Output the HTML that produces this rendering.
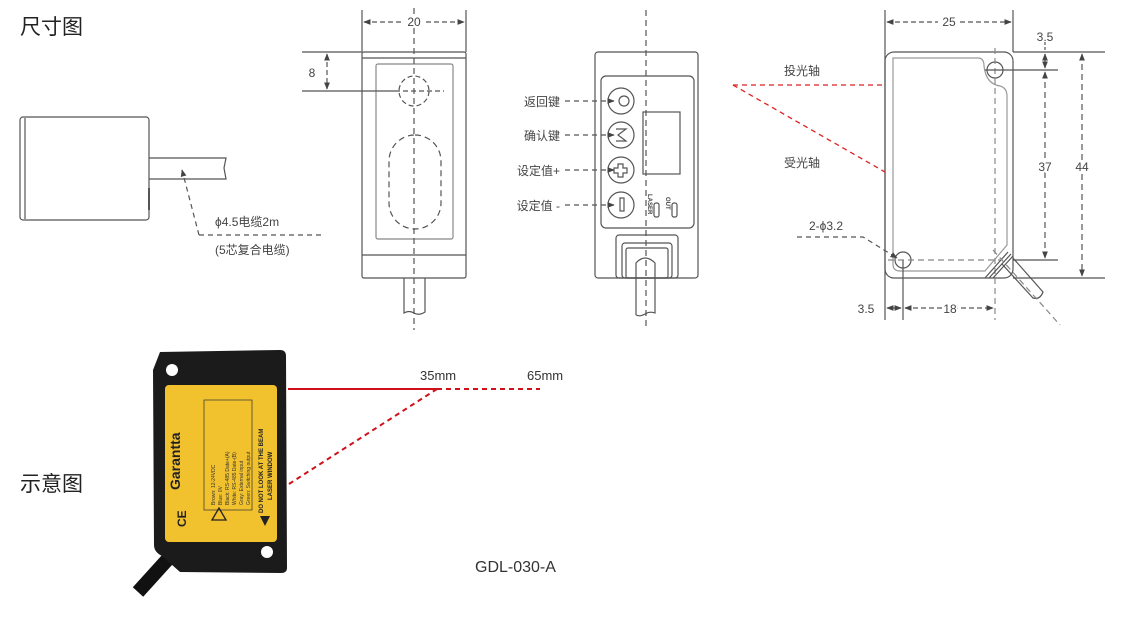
<!DOCTYPE html>
<html><head><meta charset="utf-8"><style>
html,body{margin:0;padding:0;background:#fff;}
svg{display:block;font-family:"Liberation Sans","Noto Sans CJK SC",sans-serif;}
</style></head><body>
<svg width="1128" height="618" viewBox="0 0 1128 618" xmlns="http://www.w3.org/2000/svg">
<defs>
<marker id="ar" viewBox="0 0 10 10" refX="9" refY="5" markerWidth="6" markerHeight="6" orient="auto-start-reverse"><path d="M0,1 L10,5 L0,9 z" fill="#444"/></marker>
</defs>
<text x="20" y="34" font-size="21" fill="#222">尺寸图</text>
<text x="20" y="491" font-size="21" fill="#222">示意图</text>

<g stroke="#555" stroke-width="1.2" fill="none">
<rect x="20" y="117" width="129" height="103" rx="3"/>
<line x1="25" y1="118" x2="25" y2="219"/>
<path d="M149,158 L226,158 L224,168 L226,179 L149,179"/>
<line x1="149" y1="188" x2="149" y2="210" stroke-width="2"/>
<path d="M199,235 L182,170" stroke-dasharray="5,4" marker-end="url(#ar)"/>
<line x1="199" y1="235" x2="322" y2="235" stroke-dasharray="5,4"/>

<rect x="362" y="52" width="104" height="226" rx="2"/>
<line x1="362" y1="58" x2="466" y2="58"/>
<rect x="376" y="64" width="77" height="175" rx="2" stroke="#888"/>
<line x1="362" y1="255" x2="466" y2="255"/>
<path d="M404,278 L404,313 Q409,310 414,313 Q419,316 425,312 L425,278"/>
<line x1="414" y1="8" x2="414" y2="330" stroke-dasharray="6,4"/>
<line x1="362" y1="10" x2="362" y2="52"/>
<line x1="466" y1="10" x2="466" y2="52"/>
<line x1="364" y1="22" x2="402" y2="22" stroke-dasharray="5,3" marker-start="url(#ar)"/>
<line x1="426" y1="22" x2="464" y2="22" stroke-dasharray="5,3" marker-end="url(#ar)"/>
<line x1="302" y1="52" x2="362" y2="52"/>
<line x1="302" y1="91" x2="395" y2="91"/>
<line x1="327" y1="54" x2="327" y2="89" stroke-dasharray="5,3" marker-start="url(#ar)" marker-end="url(#ar)"/>
<circle cx="414" cy="91" r="15" stroke-dasharray="5,3"/>
<line x1="395" y1="91" x2="444" y2="91" stroke-dasharray="5,3"/>
<rect x="389" y="135" width="52" height="94" rx="26" stroke-dasharray="6,4"/>

<rect x="595" y="52" width="103" height="226" rx="3"/>
<rect x="601" y="76" width="93" height="152" rx="5"/>
<line x1="646" y1="10" x2="646" y2="330" stroke-dasharray="6,4"/>
<circle cx="621" cy="101" r="13"/><circle cx="624" cy="101" r="5"/>
<circle cx="621" cy="135" r="13"/>
<circle cx="621" cy="170" r="13"/>
<circle cx="621" cy="205" r="13"/>
<path d="M616,129 L626,129 L618,135 L626,141 L616,141"/>
<path d="M618,164 h5 v4 h4 v5 h-4 v4 h-5 v-4 h-4 v-5 h4 z"/>
<rect x="620" y="198" width="4" height="13"/>
<line x1="565" y1="101" x2="614" y2="101" stroke-dasharray="5,4" marker-end="url(#ar)"/>
<line x1="565" y1="135" x2="614" y2="135" stroke-dasharray="5,4" marker-end="url(#ar)"/>
<line x1="565" y1="170" x2="614" y2="170" stroke-dasharray="5,4" marker-end="url(#ar)"/>
<line x1="565" y1="205" x2="614" y2="205" stroke-dasharray="5,4" marker-end="url(#ar)"/>
<rect x="643" y="112" width="37" height="62"/>
<rect x="654" y="203" width="5" height="14" rx="2"/>
<rect x="672" y="203" width="5" height="14" rx="2"/>
<rect x="616" y="235" width="62" height="43" rx="3"/>
<rect x="622" y="243" width="50" height="35" rx="3"/>
<rect x="626" y="248" width="42" height="30" rx="2"/>
<path d="M636,315 L636,263 Q645,253 655,263 L655,313 Q650,311 645,314 Q640,317 636,315"/>

<rect x="885" y="52" width="128" height="226" rx="9"/>
<path d="M893,58 L978,58 Q984,58 984,66 Q986,84 1000,86 Q1007,88 1007,96 L1007,245 L985,271 L900,271 Q893,271 893,264 L893,58 Z" stroke="#999"/>
<circle cx="995" cy="70" r="8"/>
<circle cx="903" cy="260" r="8"/>
<line x1="885" y1="10" x2="885" y2="320"/>
<line x1="1013" y1="10" x2="1013" y2="52"/>
<line x1="887" y1="22" x2="938" y2="22" stroke-dasharray="5,3" marker-start="url(#ar)"/>
<line x1="960" y1="22" x2="1011" y2="22" stroke-dasharray="5,3" marker-end="url(#ar)"/>
<line x1="995" y1="48" x2="995" y2="320" stroke-dasharray="6,4" stroke="#888"/>
<line x1="903" y1="260" x2="903" y2="320"/>
<line x1="888" y1="260" x2="1000" y2="260" stroke-dasharray="6,4" stroke="#888"/>
<line x1="1013" y1="52" x2="1105" y2="52"/>
<line x1="985" y1="70" x2="1058" y2="70"/>
<line x1="1013" y1="260" x2="1058" y2="260"/>
<line x1="1013" y1="278" x2="1105" y2="278"/>
<line x1="1045" y1="54" x2="1045" y2="68" marker-start="url(#ar)" marker-end="url(#ar)"/>
<line x1="1045" y1="42" x2="1045" y2="52" stroke-dasharray="3,2"/>
<line x1="1045" y1="72" x2="1045" y2="258" stroke-dasharray="6,4" marker-start="url(#ar)" marker-end="url(#ar)"/>
<line x1="1082" y1="54" x2="1082" y2="276" stroke-dasharray="6,4" marker-start="url(#ar)" marker-end="url(#ar)"/>
<line x1="887" y1="308" x2="901" y2="308" marker-start="url(#ar)" marker-end="url(#ar)"/>
<line x1="905" y1="308" x2="993" y2="308" stroke-dasharray="5,3" marker-start="url(#ar)" marker-end="url(#ar)"/>
<path d="M985,278 L1008,252 M989,278 L1011,254 M993,278 L1013,256"/>
<path d="M1002,264 L1033,298 Q1040,300 1043,292 L1013,258"/>
<line x1="993" y1="250" x2="1060" y2="325" stroke-dasharray="6,4" stroke="#888"/>
<path d="M797,237 L863,237 L897,258" stroke-dasharray="5,4" marker-end="url(#ar)"/>
</g>

<g stroke="#d22" stroke-width="1.3" fill="none" stroke-dasharray="5,4">
<line x1="733" y1="85" x2="883" y2="85"/>
<line x1="733" y1="85" x2="885" y2="172"/>
</g>

<g font-size="12" fill="#444">
<text x="215" y="226">ϕ4.5电缆2m</text>
<text x="215" y="254">(5芯复合电缆)</text>
<text x="312" y="77" text-anchor="middle">8</text>
<text x="414" y="26" text-anchor="middle" style="paint-order:stroke" stroke="#fff" stroke-width="4">20</text>
<text x="560" y="106" text-anchor="end">返回键</text>
<text x="560" y="140" text-anchor="end">确认键</text>
<text x="560" y="175" text-anchor="end">设定值+</text>
<text x="560" y="210" text-anchor="end">设定值 -</text>
<text x="0" y="0" font-size="6" font-weight="bold" transform="translate(648,194) rotate(90)">LASER</text>
<text x="0" y="0" font-size="6" font-weight="bold" transform="translate(666,197) rotate(90)">OUT</text>
<text x="784" y="75">投光轴</text>
<text x="784" y="167">受光轴</text>
<text x="949" y="26" text-anchor="middle" style="paint-order:stroke" stroke="#fff" stroke-width="4">25</text>
<text x="1045" y="41" text-anchor="middle">3.5</text>
<text x="1045" y="171" text-anchor="middle" style="paint-order:stroke" stroke="#fff" stroke-width="4">37</text>
<text x="1082" y="171" text-anchor="middle" style="paint-order:stroke" stroke="#fff" stroke-width="4">44</text>
<text x="866" y="313" text-anchor="middle">3.5</text>
<text x="950" y="313" text-anchor="middle" style="paint-order:stroke" stroke="#fff" stroke-width="4">18</text>
<text x="826" y="230" text-anchor="middle">2-ϕ3.2</text>
</g>

<g>
<path d="M138,592 L167,560" stroke="#111" stroke-width="14"/>
<path d="M160,352 L280,350 Q286,350 286,356 L287,568 Q287,573 281,573 L180,572 L162,556 Q154,552 154,545 L153,370 Z" fill="#1b1b1b"/>
<circle cx="172" cy="370" r="6" fill="#fff"/>
<circle cx="267" cy="552" r="6" fill="#fff"/>
<rect x="165" y="385" width="112" height="157" rx="4" fill="#f2c12e"/>
<rect x="204" y="400" width="48" height="110" fill="none" stroke="#333" stroke-width="0.7"/>
<text transform="translate(180,490) rotate(-90)" font-size="14" font-weight="bold" fill="#222">Garantta</text>
<text transform="translate(215,505) rotate(-90)" font-size="5" fill="#333">Brown: 12-24VDC</text>
<text transform="translate(222,505) rotate(-90)" font-size="5" fill="#333">Blue: 0V</text>
<text transform="translate(229,505) rotate(-90)" font-size="5" fill="#333">Black: RS-485 Date+(A)</text>
<text transform="translate(236,505) rotate(-90)" font-size="5" fill="#333">White: RS-485 Date-(B)</text>
<text transform="translate(243,505) rotate(-90)" font-size="5" fill="#333">Gray: External input</text>
<text transform="translate(250,505) rotate(-90)" font-size="5" fill="#333">Green: Switching output</text>
<text transform="translate(263,513) rotate(-90)" font-size="6" font-weight="bold" fill="#222">DO NOT LOOK AT THE BEAM</text>
<text transform="translate(272,500) rotate(-90)" font-size="6" font-weight="bold" fill="#222">LASER WINDOW</text>
<text x="178" y="527" font-size="12" font-weight="bold" fill="#222" transform="rotate(-90 182 523)">CE</text>
<path d="M212,520 L219,508 L226,520 Z" fill="none" stroke="#222" stroke-width="1.3"/>
<path d="M260,516 L270,521 L260,526 Z" fill="#222" transform="rotate(90 265 521)"/>
</g>
<g stroke="#d0101a" stroke-width="2" fill="none">
<line x1="288" y1="389" x2="437" y2="389"/>
<line x1="437" y1="389" x2="540" y2="389" stroke-dasharray="5,4"/>
<line x1="289" y1="484" x2="437" y2="389" stroke-dasharray="5,4"/>
</g>
<text x="420" y="380" font-size="13" fill="#333">35mm</text>
<text x="527" y="380" font-size="13" fill="#333">65mm</text>
<text x="475" y="572" font-size="16" fill="#333">GDL-030-A</text>
</svg>
</body></html>
